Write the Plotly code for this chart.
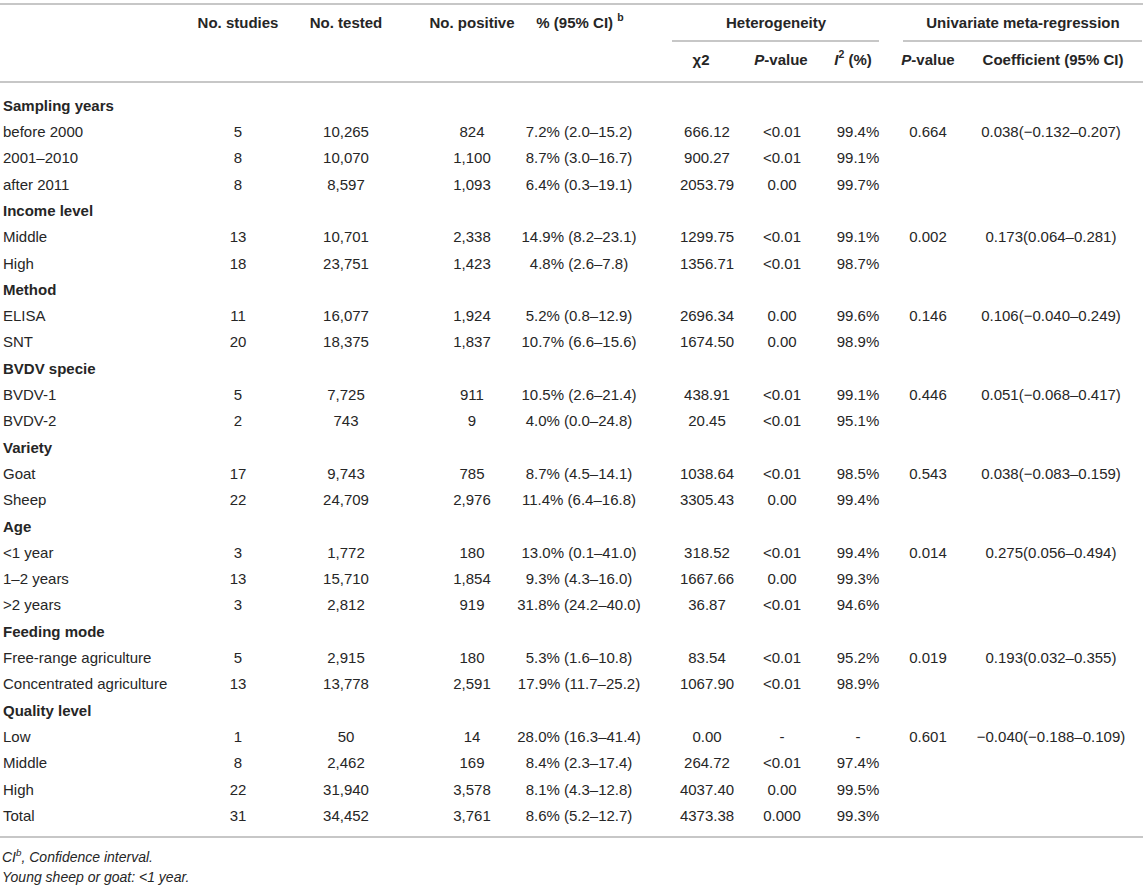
import plotly.graph_objects as go

# table rows (group headings have no values)
labels = ["Sampling years", "before 2000", "2001–2010", "after 2011",
          "Income level", "Middle", "High",
          "Method", "ELISA", "SNT",
          "BVDV specie", "BVDV-1", "BVDV-2",
          "Variety", "Goat", "Sheep",
          "Age", "<1 year", "1–2 years", ">2 years",
          "Feeding mode", "Free-range agriculture", "Concentrated agriculture",
          "Quality level", "Low", "Middle", "High", "Total"]
groups = ["Sampling years", "Income level", "Method", "BVDV specie",
          "Variety", "Age", "Feeding mode", "Quality level"]

studies = [None, 5, 8, 8, None, 13, 18, None, 11, 20, None, 5, 2, None, 17, 22,
           None, 3, 13, 3, None, 5, 13, None, 1, 8, 22, 31]
tested = [None, 10265, 10070, 8597, None, 10701, 23751, None, 16077, 18375,
          None, 7725, 743, None, 9743, 24709, None, 1772, 15710, 2812,
          None, 2915, 13778, None, 50, 2462, 31940, 34452]
positive = [None, 824, 1100, 1093, None, 2338, 1423, None, 1924, 1837,
            None, 911, 9, None, 785, 2976, None, 180, 1854, 919,
            None, 180, 2591, None, 14, 169, 3578, 3761]
pct_ci = ["", "7.2% (2.0–15.2)", "8.7% (3.0–16.7)", "6.4% (0.3–19.1)",
          "", "14.9% (8.2–23.1)", "4.8% (2.6–7.8)",
          "", "5.2% (0.8–12.9)", "10.7% (6.6–15.6)",
          "", "10.5% (2.6–21.4)", "4.0% (0.0–24.8)",
          "", "8.7% (4.5–14.1)", "11.4% (6.4–16.8)",
          "", "13.0% (0.1–41.0)", "9.3% (4.3–16.0)", "31.8% (24.2–40.0)",
          "", "5.3% (1.6–10.8)", "17.9% (11.7–25.2)",
          "", "28.0% (16.3–41.4)", "8.4% (2.3–17.4)", "8.1% (4.3–12.8)",
          "8.6% (5.2–12.7)"]
chi2 = ["", "666.12", "900.27", "2053.79", "", "1299.75", "1356.71",
        "", "2696.34", "1674.50", "", "438.91", "20.45", "", "1038.64", "3305.43",
        "", "318.52", "1667.66", "36.87", "", "83.54", "1067.90",
        "", "0.00", "264.72", "4037.40", "4373.38"]
het_p = ["", "<0.01", "<0.01", "0.00", "", "<0.01", "<0.01",
         "", "0.00", "0.00", "", "<0.01", "<0.01", "", "<0.01", "0.00",
         "", "<0.01", "0.00", "<0.01", "", "<0.01", "<0.01",
         "", "-", "<0.01", "0.00", "0.000"]
i2 = ["", "99.4%", "99.1%", "99.7%", "", "99.1%", "98.7%",
      "", "99.6%", "98.9%", "", "99.1%", "95.1%", "", "98.5%", "99.4%",
      "", "99.4%", "99.3%", "94.6%", "", "95.2%", "98.9%",
      "", "-", "97.4%", "99.5%", "99.3%"]
reg_p = ["", "0.664", "", "", "", "0.002", "", "", "0.146", "", "", "0.446", "",
         "", "0.543", "", "", "0.014", "", "", "", "0.019", "", "", "0.601", "", "", ""]
reg_coef = ["", "0.038(−0.132–0.207)", "", "", "", "0.173(0.064–0.281)", "",
            "", "0.106(−0.040–0.249)", "", "", "0.051(−0.068–0.417)", "",
            "", "0.038(−0.083–0.159)", "", "", "0.275(0.056–0.494)", "", "",
            "", "0.193(0.032–0.355)", "", "", "−0.040(−0.188–0.109)", "", "", ""]

footnotes = ["CI<sup>b</sup>, Confidence interval.", "Young sheep or goat: <1 year."]

W, H = 1146, 890
ROW0, STEP = 107, 26.3   # pixel centre of first row, row pitch
FONT = "Liberation Sans, Arial, sans-serif"
INK = "#262626"
RULE = "#b4b4b4"


def ry(pix):
    # pixel offset -> row units on the y axis
    return (pix - ROW0) / STEP


def esc(s):
    s = s.replace("<", "&lt;").replace(">", "&gt;")
    return s.replace("&lt;sup&gt;", "<sup>").replace("&lt;/sup&gt;", "</sup>")


def fmt(v):
    return "" if v is None else f"{v:,}"


rows = list(range(len(labels)))
label_txt = [f"<b>{l}</b>" if l in groups else esc(l) for l in labels]

columns = [
    (238, [fmt(v) for v in studies]),
    (346, [fmt(v) for v in tested]),
    (472, [fmt(v) for v in positive]),
    (579, pct_ci),
    (707, chi2),
    (782, [esc(v) for v in het_p]),
    (858, i2),
    (928, reg_p),
    (1051, reg_coef),
]

fig = go.Figure()

fig.add_trace(go.Scatter(x=[3] * len(rows), y=rows, mode="text", text=label_txt,
                         textposition="middle right", hoverinfo="skip",
                         textfont=dict(family=FONT, size=15, color=INK)))
for cx, vals in columns:
    keep = [r for r in rows if vals[r] != ""]
    fig.add_trace(go.Scatter(x=[cx] * len(keep), y=keep, mode="text",
                             text=[vals[r] for r in keep],
                             textposition="middle center", hoverinfo="skip",
                             textfont=dict(family=FONT, size=15, color=INK)))

# header cells
head_x = [238, 346, 472, 580, 776, 1023, 701, 781, 853, 928, 1053]
head_y = [ry(24)] * 6 + [ry(61)] * 5
head_t = ["<b>No. studies</b>", "<b>No. tested</b>", "<b>No. positive</b>",
          "<b>% (95% CI) <sup>b</sup></b>", "<b>Heterogeneity</b>",
          "<b>Univariate meta-regression</b>",
          "<b>χ2</b>", "<b><i>P</i>-value</b>", "<b><i>I</i><sup>2</sup> (%)</b>",
          "<b><i>P</i>-value</b>", "<b>Coefficient (95% CI)</b>"]
fig.add_trace(go.Scatter(x=head_x, y=head_y, mode="text", text=head_t,
                         textposition="middle center", hoverinfo="skip",
                         textfont=dict(family=FONT, size=15, color=INK)))

fig.add_trace(go.Scatter(x=[2, 2], y=[ry(858), ry(878)], mode="text",
                         text=[f"<i>{esc(t)}</i>" for t in footnotes],
                         textposition="middle right", hoverinfo="skip",
                         textfont=dict(family=FONT, size=14, color=INK)))

# rules
for x0, x1, yp in [(0, 1143, 4), (672, 879, 41), (903, 1142, 41),
                   (0, 1143, 82), (0, 1143, 837)]:
    fig.add_shape(type="line", xref="x", yref="y", x0=x0, x1=x1,
                  y0=ry(yp), y1=ry(yp), line=dict(color=RULE, width=1.6))

fig.update_layout(
    width=W, height=H,
    margin=dict(l=0, r=0, t=0, b=0),
    paper_bgcolor="white", plot_bgcolor="white",
    showlegend=False,
    xaxis=dict(range=[0, W], visible=False, fixedrange=True),
    yaxis=dict(range=[ry(H), ry(0)], visible=False, fixedrange=True),
)

fig.write_html("out.html", config={"displayModeBar": False},
               post_script="document.body.style.margin='0';")
